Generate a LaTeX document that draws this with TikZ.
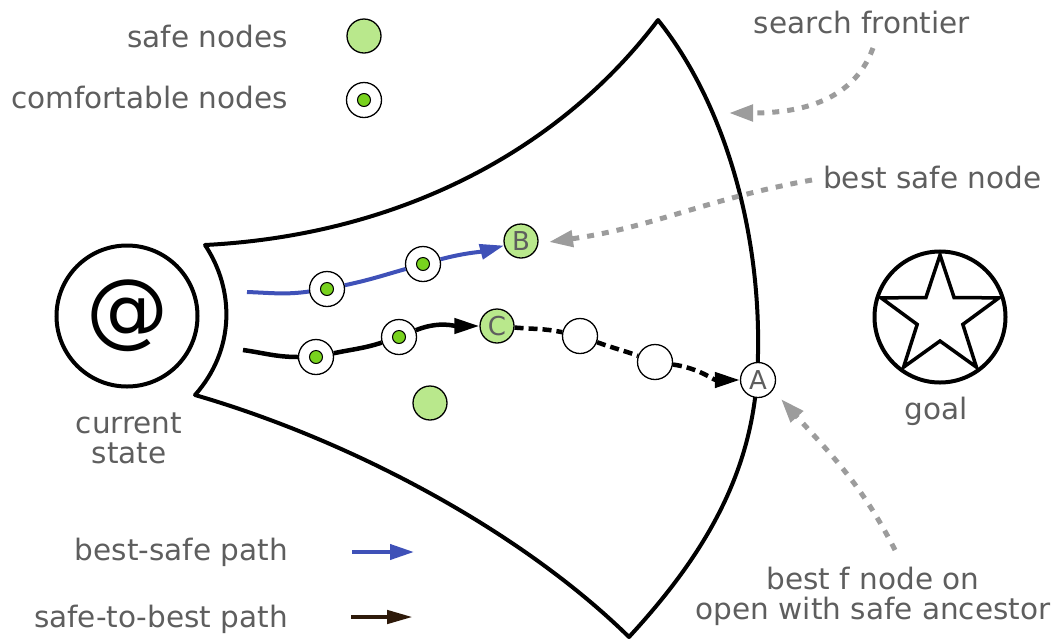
\documentclass[tikz,border=0pt]{standalone}
\usepackage{fontspec}
\setmainfont{DejaVu Sans}
\usetikzlibrary{arrows.meta}
\definecolor{txtgray}{HTML}{5E5E5E}
\definecolor{safegreen}{HTML}{B9E88C}
\definecolor{dotgreen}{HTML}{78D21E}
\definecolor{pathblue}{HTML}{3F51B8}
\definecolor{arrgray}{HTML}{9C9C9C}
\definecolor{darkbrown}{HTML}{2E1A0A}
\newcommand\lblfont{\fontsize{29.5}{30}\selectfont}
\newcommand\letfont{\fontsize{26}{26}\selectfont}
\newcommand\atfont{\fontsize{82}{82}\selectfont}
\begin{document}
\begin{tikzpicture}[x=1pt,y=1pt,
  lbl/.style={text=txtgray, font=\lblfont, inner sep=0pt},
  safe/.style={circle, draw=black, fill=safegreen, line width=1.3pt, minimum size=34pt, inner sep=0pt, text=txtgray, font=\letfont},
  comf/.style={circle, draw=black, fill=white, line width=1.3pt, minimum size=35pt, inner sep=0pt,
    path picture={\filldraw[fill=dotgreen, draw=black, line width=1pt] (path picture bounding box.center) circle (6.5pt);}},
  opennode/.style={circle, draw=black, fill=white, line width=1.3pt, minimum size=35pt, inner sep=0pt, text=txtgray, font=\letfont},
  bigcirc/.style={circle, draw=black, line width=4pt, inner sep=0pt},
  frontline/.style={draw=black, line width=4pt, line join=round},
  bluepath/.style={draw=pathblue, line width=4pt, -{Triangle[length=24pt,width=15pt]}},
  blackpath/.style={draw=black, line width=4.5pt, -{Triangle[length=25pt,width=15pt]}},
  dashpath/.style={blackpath, dash pattern=on 9pt off 5pt},
  legblack/.style={draw=darkbrown, line width=4.5pt, -{Triangle[length=26pt,width=13pt]}},
  grayarrow/.style={draw=arrgray, line width=5pt, dash pattern=on 7pt off 8pt, -{Triangle[length=24pt,width=16pt]}},
  starline/.style={draw=black, line width=3.5pt, line join=miter}
]
\useasboundingbox (0,0) rectangle (1058,-641);

% search frontier outline
\draw[frontline] (205,-245) .. controls (400,-235) and (560,-150) .. (658,-20)
  .. controls (730,-110) and (765,-250) .. (757,-378)
  .. controls (750,-480) and (700,-560) .. (629,-637)
  .. controls (520,-530) and (350,-440) .. (195,-395)
  .. controls (235,-350) and (235,-290) .. cycle;

% legend
\node[safe] (lsafe) at (364,-36) {};
\node[comf] (lcomf) at (364,-100) {};
\node[lbl, anchor=base east] (tsafe) at (288,-47) {safe nodes};
\node[lbl, anchor=base east] (tcomf) at (288,-108) {comfortable nodes};
\node[lbl, anchor=base east] (tbs) at (288,-560) {best-safe path};
\node[lbl, anchor=base east] (tstb) at (288,-627) {safe-to-best path};
\coordinate (lb1) at (352,-552);
\coordinate (lb2) at (414,-552);
\coordinate (lk1) at (351,-617);
\coordinate (lk2) at (413,-617);
\draw[bluepath] (lb1) -- (lb2);
\draw[legblack] (lk1) -- (lk2);

% current state and goal
\node[bigcirc, minimum size=141pt, font=\atfont] (cur) at (127,-316) {@};
\node[lbl, anchor=base] (tcur1) at (129,-433) {current};
\node[lbl, anchor=base] (tcur2) at (129,-463) {state};
\node[bigcirc, minimum size=131pt] (goal) at (940,-317) {};
\draw[starline] ([shift={(90:62)}]goal.center)
  -- ([shift={(126:24)}]goal.center) -- ([shift={(162:62)}]goal.center)
  -- ([shift={(198:24)}]goal.center) -- ([shift={(234:62)}]goal.center)
  -- ([shift={(270:24)}]goal.center) -- ([shift={(306:62)}]goal.center)
  -- ([shift={(342:24)}]goal.center) -- ([shift={(18:62)}]goal.center)
  -- ([shift={(54:24)}]goal.center) -- cycle;
\node[lbl, anchor=base] (tgoal) at (936,-419) {goal};

% search nodes
\node[safe] (B) at (521,-241) {B};
\node[safe] (C) at (497,-326) {C};
\node[opennode] (A) at (758,-380) {A};
\node[opennode] (w1) at (580,-336) {};
\node[opennode] (w2) at (655,-362) {};
\node[comf] (cb1) at (327,-289) {};
\node[comf] (cb2) at (423,-264) {};
\node[comf] (cb3) at (316,-357) {};
\node[comf] (cb4) at (399,-337) {};
\node[safe] (lone) at (430,-403) {};

% paths
\coordinate (bs) at (247,-292);
\coordinate (ks) at (243,-350);
\draw[bluepath] (bs) to[out=-2,in=188] (cb1) to[out=12,in=196] (cb2) to[out=15,in=195] (B);
\draw[blackpath] (ks) to[out=-8,in=180] (cb3) to[out=12,in=198] (cb4) to[out=22,in=180] (C);
\draw[dashpath] (C) to[out=-5,in=168] (w1) to[out=-20,in=160] (w2) to[out=-8,in=180] (A);

% annotations
\node[lbl, anchor=base] (tsf) at (862,-33) {search frontier};
\node[lbl, anchor=base west] (tbsn) at (823,-188) {best safe node};
\node[lbl, anchor=base] (tbf1) at (873,-589) {best f node on};
\node[lbl, anchor=base] (tbf2) at (873,-619) {open with safe ancestor};
\coordinate (sfs) at (873,-48);
\coordinate (sfe) at (729,-113);
\coordinate (bss) at (812,-180);
\coordinate (bse) at (549,-242);
\coordinate (bfs) at (895,-550);
\coordinate (bfe) at (781,-399);
\draw[grayarrow] (sfs) to[out=-110,in=0] (sfe);
\draw[grayarrow] (bss) to[out=190,in=8] (bse);
\draw[grayarrow] (bfs) to[out=117,in=-48] (bfe);
\end{tikzpicture}
\end{document}
